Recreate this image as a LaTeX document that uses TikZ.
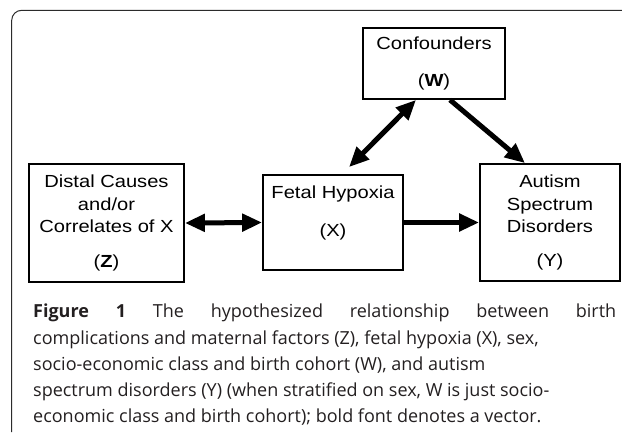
\documentclass[tikz,border=0pt]{standalone}
\usepackage{fontspec}
\setmainfont{Liberation Sans}[FakeStretch=1.15]
\newfontfamily\capfont{Open Sans}
\usetikzlibrary{arrows.meta, positioning}
\definecolor{capgray}{HTML}{231F20}
\definecolor{framegray}{HTML}{2B2B2B}

\begin{document}
\begin{tikzpicture}[x=1pt, y=-1pt,
  every node/.style={font=\fontsize{17.5}{22.5}\selectfont},
  box/.style={rectangle, draw, line width=1.8pt, align=center, inner sep=0pt},
  link/.style={line width=5pt, -{Triangle[length=20pt, width=17pt]}},
  twoway/.style={line width=5pt, {Triangle[length=20pt, width=17pt]}-{Triangle[length=20pt, width=17pt]}},
  capline/.style={anchor=base west, inner sep=0pt, text=capgray, font=\capfont\fontsize{18}{26}\selectfont},
]
\useasboundingbox (0, 0) rectangle (622, 432);

% Frame
\draw[framegray, line width=1pt, rounded corners=10pt] (11.7, 432) -- (11.7, 10.3) -- (622, 10.3);

% Boxes
\node[box, minimum width=155pt, minimum height=118pt] (dist) at (106.5, 223) {Distal Causes\\and/or\\Correlates of X\\[12.5pt](\textbf{Z})};
\node[box, minimum width=140pt, minimum height=95pt] (hyp) at (333, 222.5) {Fetal Hypoxia\\[15.5pt](X)\\ \mbox{}};
\node[box, minimum width=140pt, minimum height=117pt] (asd) at (550, 222.5) {Autism\\Spectrum\\Disorders\\[11.5pt](Y)};
\node[box, minimum width=142pt, minimum height=71pt] (conf) at (434, 63.5) {Confounders\\[14pt](\textbf{W})};

% Causal links
\draw[twoway] (dist.east) -- (hyp.west);
\draw[link] (hyp.east) -- (asd.west);
\draw[twoway] ([xshift=16pt, yshift=7pt]hyp.north) -- ([xshift=-18pt]conf.south);
\draw[link] ([xshift=16pt]conf.south) -- ([xshift=-25pt]asd.north);

% Caption
\node[capline] (cap1) at (33, 317.5) {\makebox[583pt][s]{\textbf{Figure 1} The hypothesized relationship between birth}};
\node[capline] (cap2) at (33, 344) {complications and maternal factors (Z), fetal hypoxia (X), sex,};
\node[capline] (cap3) at (33, 370) {socio-economic class and birth cohort (W), and autism};
\node[capline] (cap4) at (33, 396.5) {spectrum disorders (Y) (when stratified on sex, W is just socio-};
\node[capline] (cap5) at (33, 422.5) {economic class and birth cohort); bold font denotes a vector.};

\end{tikzpicture}
\end{document}
